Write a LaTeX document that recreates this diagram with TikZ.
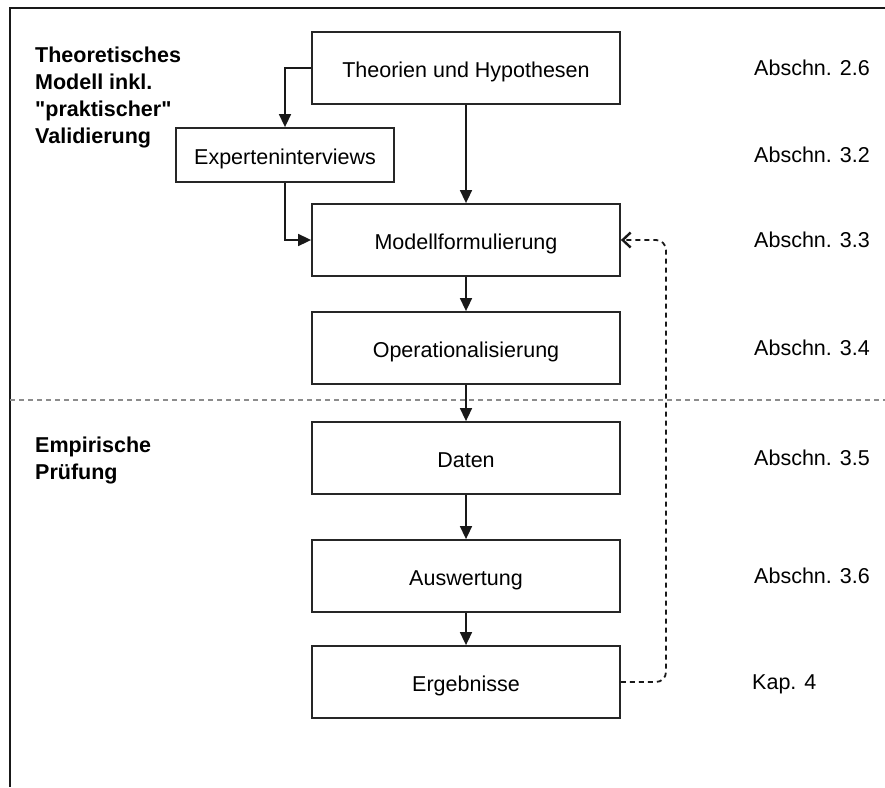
\documentclass[tikz,border=0pt]{standalone}
\usepackage{fontspec}
\setmainfont{Liberation Sans}
\usetikzlibrary{arrows.meta}
\begin{document}
\begin{tikzpicture}[x=1pt,y=-1pt,
  font=\fontsize{21.5}{27}\selectfont,
  box/.style={draw=black!85,line width=1.8pt,minimum width=308pt,minimum height=72pt,inner sep=0pt,text height=19pt,text depth=0pt},
  smallbox/.style={draw=black!85,line width=1.8pt,minimum width=218pt,minimum height=54pt,inner sep=0pt,text height=19pt,text depth=0pt},
  conn/.style={draw=black!90,line width=1.6pt,-{Triangle[length=13pt,width=12pt]}},
  fb/.style={draw=black!90,line width=1.8pt,dash pattern=on 5pt off 4pt,rounded corners=10pt,-{Straight Barb[length=8pt,width=15pt,line width=2.4pt]}},
  sect/.style={anchor=base west,inner sep=0pt},
  title/.style={anchor=north west,inner sep=0pt,align=left,font=\fontsize{21.5}{27}\selectfont\bfseries}]
\useasboundingbox (0,0) rectangle (885,787);
\draw[line width=2.2pt,black!90] (885,8) -- (10,8) -- (10,787);
\draw[line width=2.2pt,gray!90,dash pattern=on 5pt off 4pt] (10,400) -- (885,400);

\node[box] (th) at (466,68) {Theorien und Hypothesen};
\node[smallbox] (ex) at (285,155) {Experteninterviews};
\node[box] (mo) at (466,240) {Modellformulierung};
\node[box] (op) at (466,348) {Operationalisierung};
\node[box] (da) at (466,458) {Daten};
\node[box] (au) at (466,576) {Auswertung};
\node[box] (er) at (466,682) {Ergebnisse};

\node[title] (t1) at (35,47) {Theoretisches\\Modell inkl.\\\textquotedbl praktischer\textquotedbl\\Validierung};
\node[title] (t2) at (35,437) {Empirische\\Prüfung};

\node[sect] (s1) at (754,75) {Abschn. 2.6};
\node[sect] (s2) at (754,162) {Abschn. 3.2};
\node[sect] (s3) at (754,247) {Abschn. 3.3};
\node[sect] (s4) at (754,355) {Abschn. 3.4};
\node[sect] (s5) at (754,465) {Abschn. 3.5};
\node[sect] (s6) at (754,583) {Abschn. 3.6};
\node[sect] (s7) at (752,689) {Kap. 4};

\draw[conn] (th.west) -| (ex.north);
\draw[conn] (ex.south) |- (mo.west);
\draw[conn] (th.south) -- (mo.north);
\draw[conn] (mo.south) -- (op.north);
\draw[conn] (op.south) -- (da.north);
\draw[conn] (da.south) -- (au.north);
\draw[conn] (au.south) -- (er.north);
\coordinate (c1) at (666,682);
\draw[fb] (er.east) -- (c1) |- (mo.east);
\end{tikzpicture}
\end{document}
